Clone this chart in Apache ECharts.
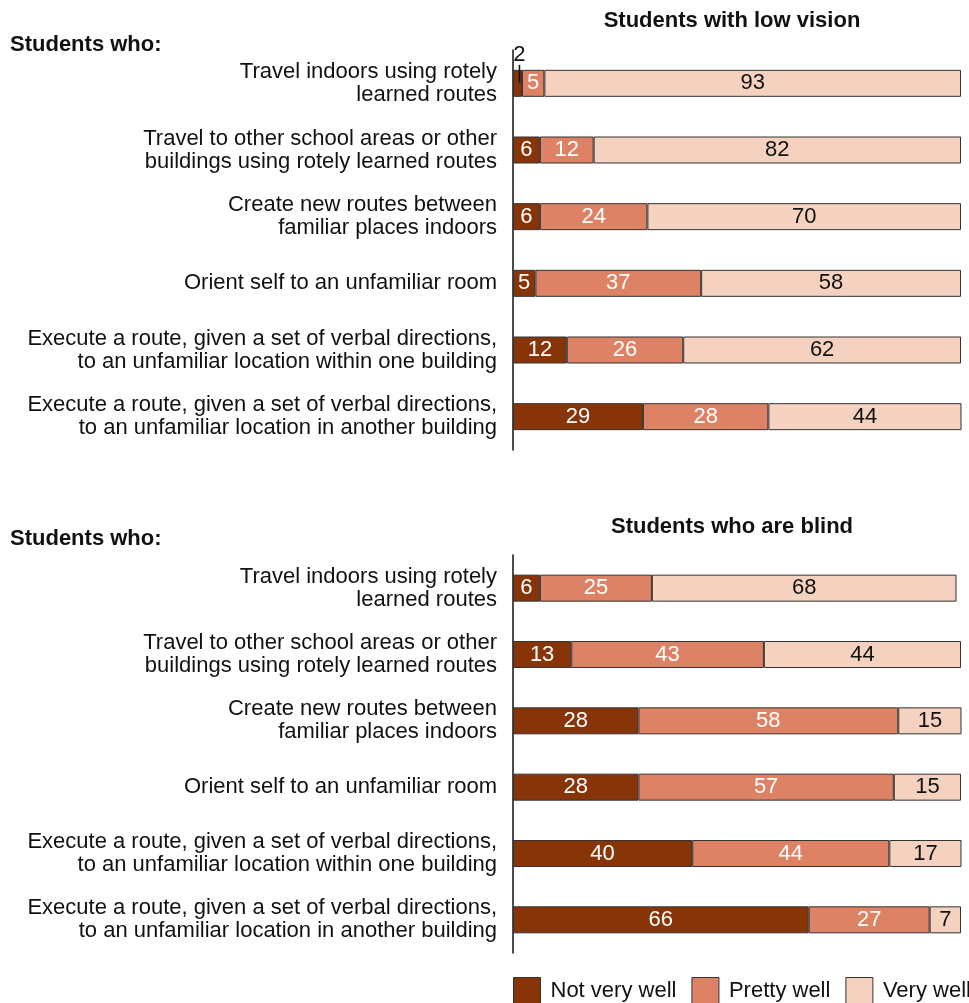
<!DOCTYPE html>
<html>
<head>
<meta charset="utf-8">
<script src="https://cdn.jsdelivr.net/npm/echarts@6/dist/echarts.min.js"></script>
<style>html,body{margin:0;padding:0;background:#fff}#c{width:969px;height:1003px}</style>
</head>
<body>
<div id="c"></div>
<script>
const categories = [
  "Travel indoors using rotely\nlearned routes",
  "Travel to other school areas or other\nbuildings using rotely learned routes",
  "Create new routes between\nfamiliar places indoors",
  "Orient self to an unfamiliar room",
  "Execute a route, given a set of verbal directions,\nto an unfamiliar location within one building",
  "Execute a route, given a set of verbal directions,\nto an unfamiliar location in another building"
];
const seriesNames = ["Not very well", "Pretty well", "Very well"];
const lowVisionNotVeryWell = [2, 6, 6, 5, 12, 29];
const lowVisionPrettyWell = [5, 12, 24, 37, 26, 28];
const lowVisionVeryWell = [93, 82, 70, 58, 62, 44];
const blindNotVeryWell = [6, 13, 28, 28, 40, 66];
const blindPrettyWell = [25, 43, 58, 57, 44, 27];
const blindVeryWell = [68, 44, 15, 15, 17, 7];
const panelTitles = ["Students with low vision", "Students who are blind"];
const groupTitle = "Students who:";

const colors = ["#873508", "#DD8264", "#F5D2BF"];
const labelColors = ["#fff", "#fff", "#111"];
const FONT = "Liberation Sans, Arial, sans-serif";
const FS = 22;

function mkSeries(name, idx, data, gridIdx) {
  return {
    name: name,
    type: "bar",
    stack: "s" + gridIdx,
    xAxisIndex: gridIdx,
    yAxisIndex: gridIdx,
    barWidth: 27,
    itemStyle: { color: colors[idx], borderColor: "#333", borderWidth: 1 },
    label: {
      show: true,
      position: "inside",
      color: labelColors[idx],
      fontSize: FS,
      fontFamily: FONT
    },
    data: data.map(function (v) {
      if (v < 3) {
        return {
          value: v,
          label: {
            position: "top",
            distance: -13,
            offset: [2, 0],
            formatter: "{v|" + v + "}\n{l|}",
            rich: {
              v: { color: "#111", fontSize: FS, fontFamily: FONT, lineHeight: 20 },
              l: { width: 1.5, height: 18, backgroundColor: "#111" }
            }
          }
        };
      }
      return v;
    })
  };
}

const grids = [
  { left: 513, right: 8, top: 50, height: 400 },
  { left: 513, right: 8, top: 555, height: 398 }
];

const xAxes = grids.map(function (g, i) {
  return { type: "value", gridIndex: i, min: 0, max: 100, show: false };
});
const yAxes = grids.map(function (g, i) {
  return {
    type: "category",
    gridIndex: i,
    data: categories,
    inverse: true,
    axisLine: { show: true, lineStyle: { color: "#111", width: 1.5 } },
    axisTick: { show: false },
    axisLabel: { color: "#111", fontSize: FS, fontFamily: FONT, lineHeight: 23, margin: 16, align: "right", padding: [5, 0, 0, 0] }
  };
});

const titleStyle = { fontSize: FS, fontWeight: "bold", color: "#111", fontFamily: FONT };
const chart = echarts.init(document.getElementById("c"));
chart.setOption({
  animation: false,
  textStyle: { fontFamily: FONT },
  title: [
    { text: panelTitles[0], left: 732, top: 10, padding: 0, textAlign: "center", textStyle: titleStyle },
    { text: panelTitles[1], left: 732, top: 516, padding: 0, textAlign: "center", textStyle: titleStyle },
    { text: groupTitle, left: 10, top: 34, padding: 0, textStyle: titleStyle },
    { text: groupTitle, left: 10, top: 528, padding: 0, textStyle: titleStyle }
  ],
  legend: {
    left: 513,
    top: 977,
    width: 600,
    padding: 0,
    itemWidth: 27,
    itemHeight: 26,
    itemGap: 15,
    icon: "rect",
    data: seriesNames,
    itemStyle: { borderColor: "#333", borderWidth: 1 },
    textStyle: { fontSize: FS, color: "#111", fontFamily: FONT, padding: [0, 0, 0, 5] }
  },
  grid: grids,
  xAxis: xAxes,
  yAxis: yAxes,
  series: [
    mkSeries(seriesNames[0], 0, lowVisionNotVeryWell, 0),
    mkSeries(seriesNames[1], 1, lowVisionPrettyWell, 0),
    mkSeries(seriesNames[2], 2, lowVisionVeryWell, 0),
    mkSeries(seriesNames[0], 0, blindNotVeryWell, 1),
    mkSeries(seriesNames[1], 1, blindPrettyWell, 1),
    mkSeries(seriesNames[2], 2, blindVeryWell, 1)
  ]
});
</script>
</body>
</html>
